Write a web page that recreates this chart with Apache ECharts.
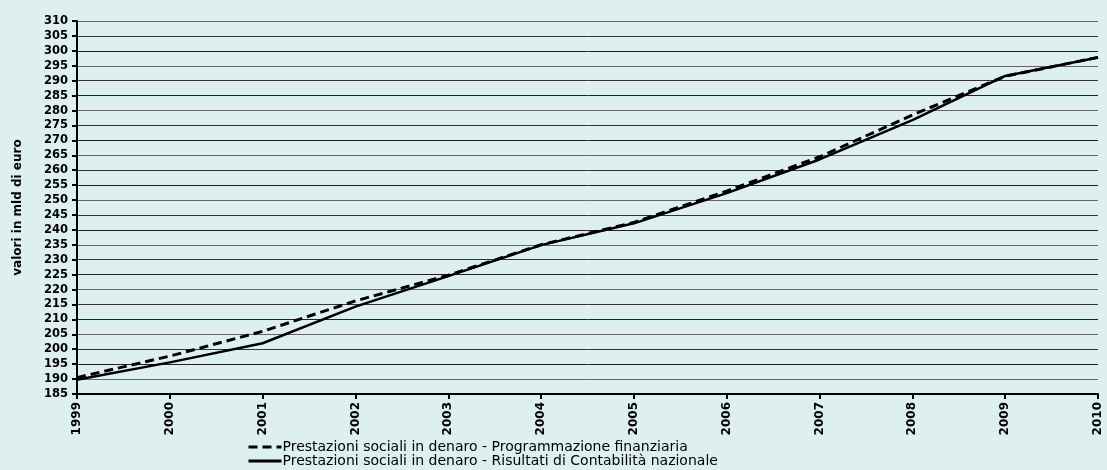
<!DOCTYPE html>
<html>
<head>
<meta charset="utf-8">
<script src="https://cdn.jsdelivr.net/npm/echarts@6/dist/echarts.min.js"></script>
<style>
html,body{margin:0;padding:0;background:#DEEFEF;}
#c{width:1107px;height:470px;}
</style>
</head>
<body>
<div id="c"></div>
<script>
var years = ['1999','2000','2001','2002','2003','2004','2005','2006','2007','2008','2009','2010'];
var programmazione = [190.5, 197.7, 206.0, 216.2, 224.8, 235.0, 242.5, 253.0, 264.5, 278.5, 291.5, 297.8];
var risultati = [189.8, 195.6, 202.0, 214.3, 224.5, 234.9, 242.2, 252.3, 263.6, 276.8, 291.6, 297.8];
var seriesNames = ['Prestazioni sociali in denaro - Programmazione finanziaria',
                   'Prestazioni sociali in denaro - Risultati di Contabilità nazionale'];
var yAxisName = 'valori in mld di euro';

var chart = echarts.init(document.getElementById('c'), null, {renderer:'canvas'});
chart.setOption({
  backgroundColor: '#DEEFEF',
  animation: false,
  textStyle: {fontFamily: 'DejaVu Sans, sans-serif'},
  grid: {left: 77, right: 9, top: 21, bottom: 76, containLabel: false},
  legend: {
    orient: 'vertical', left: 247, top: 440, itemGap: 0, padding: 0,
    itemWidth: 33, itemHeight: 8,
    itemStyle: {opacity: 0},
    lineStyle: {color: '#000', width: 3},
    textStyle: {fontSize: 14, lineHeight: 14, color: '#000', fontFamily: 'DejaVu Sans, sans-serif', padding: [0,0,0,-4]},
    data: seriesNames
  },
  xAxis: {
    type: 'category', data: years, boundaryGap: false,
    axisLine: {lineStyle: {color: '#000', width: 2}},
    axisTick: {alignWithLabel: true, length: 5, lineStyle: {color: '#000', width: 2}},
    axisLabel: {rotate: 90, fontSize: 12, fontWeight: 'bold', color: '#000', margin: 8, interval: 0,
                fontFamily: 'DejaVu Sans, sans-serif'},
    splitLine: {show: false}
  },
  yAxis: {
    type: 'value', min: 185, max: 310, interval: 5,
    name: yAxisName, nameLocation: 'middle', nameGap: 53, nameRotate: 90,
    nameTextStyle: {fontSize: 12, fontWeight: 'bold', color: '#000', fontFamily: 'DejaVu Sans, sans-serif'},
    axisLine: {show: true, lineStyle: {color: '#000', width: 2}},
    axisTick: {show: true, length: 5, lineStyle: {color: '#000', width: 2}},
    axisLabel: {fontSize: 11.5, fontWeight: 'bold', color: '#000', margin: 9, fontFamily: 'DejaVu Sans, sans-serif'},
    splitLine: {show: true, lineStyle: {color: ['#333', '#666', '#222'], width: 1}}
  },
  series: [
    {name: seriesNames[0], type: 'line', data: programmazione, symbol: 'none', showSymbol: false,
     lineStyle: {color: '#000', width: 3, type: [9, 5]}, itemStyle: {color: '#000'}, z: 3},
    {name: seriesNames[1], type: 'line', data: risultati, symbol: 'none', showSymbol: false,
     lineStyle: {color: '#000', width: 2.5, type: 'solid'}, itemStyle: {color: '#000'}, z: 2}
  ]
});
</script>
</body>
</html>
